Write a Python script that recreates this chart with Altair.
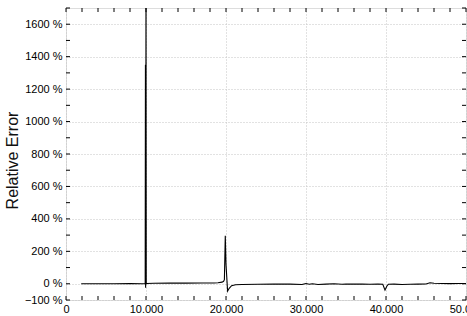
import altair as alt
import pandas as pd

# ---- data ----
x_vals = [1900, 4000, 6000, 8000, 9500, 9900, 9930, 9950, 9970, 10000, 10030, 10100,
          11000, 13000, 15000, 17000, 18500, 19000, 19500, 19700, 19800, 19910, 20000,
          20200, 20400, 20700, 21200, 22000, 24000, 26000, 28000, 29500, 30000, 30400,
          30800, 31500, 32500, 33500, 34500, 35000, 36000, 37000, 38000, 39000, 39600,
          39875, 40100, 40300, 41000, 42000, 43000, 44000, 45000, 45500, 46000, 47000,
          48000, 49000, 50000]
y_vals = [0, 0, 0, 1, 0, 0, 1350, -25, 60, 2000, 0, 2,
          3, 4, 4, 5, 5, 6, 10, 15, 25, 296, 120,
          -45, -28, -12, -6, -4, -3, -2, -2, -4, 2, -3,
          0, -4, -2, 0, -3, -1, -2, -1, -3, -2, -3,
          -39, -15, -3, -2, -4, -3, -2, -1, 6, 3, 2,
          1, 2, 2]

y_tick_values = [-100, 0, 200, 400, 600, 800, 1000, 1200, 1400, 1600]
x_tick_values = [0, 10000, 20000, 30000, 40000, 50000]
x_minor = list(range(0, 50001, 2000))
y_minor = list(range(-100, 1701, 100))

FONT = "Liberation Sans"
W, H = 400, 292

df = pd.DataFrame({"x": x_vals, "y": y_vals})
xs = alt.Scale(domain=[0, 50000], nice=False, zero=False)
ys = alt.Scale(domain=[-100, 1700], nice=False, zero=False)

x_axis = alt.Axis(
    values=x_tick_values, title=None, ticks=False, domain=False,
    labelExpr="datum.value == 0 ? '0' : format(datum.value/1000, '.3f')",
    labelFont=FONT, labelFontSize=11, labelColor="black", labelPadding=3,
    grid=True, gridDash=[1, 2], gridColor="#c4c4c4", gridWidth=1,
    labelFlush=False, labelOverlap=False)
y_axis = alt.Axis(
    values=y_tick_values, title="Relative Error", ticks=False, domain=False,
    labelExpr="datum.value == -100 ? '\u2212100 %' : datum.value + ' %'",
    labelFont=FONT, labelFontSize=11, labelColor="black", labelPadding=4,
    titleFont=FONT, titleFontSize=16, titleFontWeight="normal", titleColor="#111111",
    titlePadding=4, titleY=152, labelFlush=False, labelOverlap=False,
    grid=True, gridDash=[1, 2], gridColor="#c4c4c4", gridWidth=1)

line = alt.Chart(df).mark_line(color="black", strokeWidth=1.1, clip=True).encode(
    x=alt.X("x:Q", scale=xs, axis=x_axis, title=None),
    y=alt.Y("y:Q", scale=ys, axis=y_axis, title="Relative Error"),
)

xt = pd.DataFrame({"t": x_minor})
yt = pd.DataFrame({"t": y_minor})
TL = 4
xb = alt.Chart(xt).mark_rule(color="black", strokeWidth=1).encode(
    x=alt.X("t:Q", scale=xs, axis=x_axis, title=None), y=alt.value(H), y2=alt.value(H - TL))
xtop = alt.Chart(xt).mark_rule(color="black", strokeWidth=1).encode(
    x=alt.X("t:Q", scale=xs, axis=x_axis, title=None), y=alt.value(0), y2=alt.value(TL))
yl = alt.Chart(yt).mark_rule(color="black", strokeWidth=1).encode(
    y=alt.Y("t:Q", scale=ys, axis=y_axis, title="Relative Error"), x=alt.value(0), x2=alt.value(TL))
yr = alt.Chart(yt).mark_rule(color="black", strokeWidth=1).encode(
    y=alt.Y("t:Q", scale=ys, axis=y_axis, title="Relative Error"), x=alt.value(W), x2=alt.value(W - TL))

chart = alt.layer(line, xb, xtop, yl, yr).properties(
    width=W, height=H,
    autosize=alt.AutoSizeParams(type="none"),
    padding={"left": 66, "top": 8, "right": 1, "bottom": 16},
).configure_view(stroke="black", strokeWidth=1.5).configure(background="white")

chart.save("out.html", embed_options={"renderer": "svg", "actions": False})
